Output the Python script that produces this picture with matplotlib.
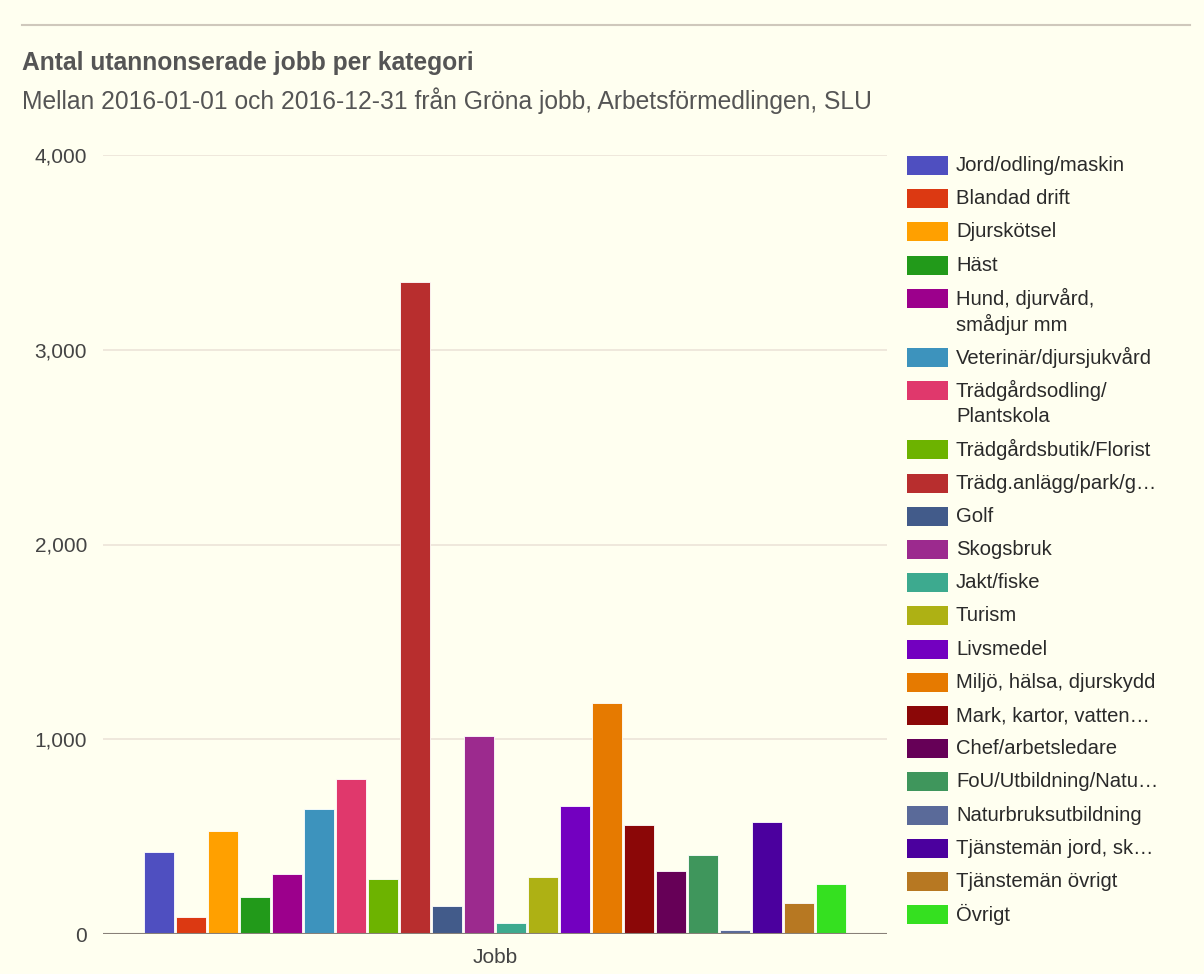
import matplotlib
matplotlib.use("Agg")
import matplotlib.pyplot as plt
from matplotlib.patches import Rectangle

plt.rcParams['font.family'] = ['Liberation Sans', 'DejaVu Sans']

# Kategorier och värden
kategorier = ['Jord/odling/maskin', 'Blandad drift', 'Djurskötsel', 'Häst',
              'Hund, djurvård,\nsmådjur mm', 'Veterinär/djursjukvård',
              'Trädgårdsodling/\nPlantskola', 'Trädgårdsbutik/Florist',
              'Trädg.anlägg/park/g…', 'Golf', 'Skogsbruk', 'Jakt/fiske', 'Turism',
              'Livsmedel', 'Miljö, hälsa, djurskydd', 'Mark, kartor, vatten…',
              'Chef/arbetsledare', 'FoU/Utbildning/Natu…', 'Naturbruksutbildning',
              'Tjänstemän jord, sk…', 'Tjänstemän övrigt', 'Övrigt']
antal = [420, 87, 529, 190, 310, 642, 797, 280, 3350, 145, 1018, 57, 293,
         657, 1185, 560, 323, 405, 20, 576, 160, 257]
farger = ['#4f4fc0', '#dc3912', '#ffa000', '#229a1a', '#9c008c', '#3d93bd',
          '#e0386c', '#6db300', '#b82e2e', '#425b8a', '#9c2a8e', '#3daa8f',
          '#aeb114', '#7300c0', '#e67a00', '#8b0707', '#660057', '#3f965c',
          '#5a6a99', '#4b009e', '#b77822', '#35e020']
yticks = [0, 1000, 2000, 3000, 4000]

W, H = 1204, 974
bg = '#fffff0'
fig = plt.figure(figsize=(W / 100, H / 100), dpi=100, facecolor=bg)

# Linje överst
fig.add_artist(plt.Line2D([22 / W, 1190 / W], [1 - 25 / H, 1 - 25 / H],
                          color='#cfc8bc', linewidth=1.5))
fig.text(22 / W, 1 - 63 / H, 'Antal utannonserade jobb per kategori',
         fontsize=17.7, fontweight='bold', color='#555555', va='center')
fig.text(22 / W, 1 - 101 / H,
         'Mellan 2016-01-01 och 2016-12-31 från Gröna jobb, Arbetsförmedlingen, SLU',
         fontsize=17.7, color='#555555', va='center')

# Diagram
ax = fig.add_axes([103 / W, 1 - 934 / H, (887 - 103) / W, (934 - 155) / H])
ax.set_facecolor(bg)
x = list(range(len(antal)))
ax.bar(x, antal, width=0.94, color=farger, edgecolor='white', linewidth=0.6, zorder=3)
ax.set_xlim(-1.75, len(antal) - 1 + 1.75)
ax.set_ylim(0, 4000)
ax.set_yticks(yticks)
ax.set_yticklabels([f'{v:,}' for v in yticks])
ax.grid(axis='y', color='#ece4d8', linewidth=1.2, zorder=0)
ax.axhline(0, color='#888078', linewidth=1.5, zorder=4)
for s in ax.spines.values():
    s.set_visible(False)
ax.tick_params(axis='y', length=0, pad=11.5, labelsize=15, labelcolor='#444444')
ax.set_xticks([(len(antal) - 1) / 2])
ax.set_xticklabels(['Jobb'])
ax.tick_params(axis='x', length=0, pad=10, labelsize=15, labelcolor='#444444')

# Legend
lax = fig.add_axes([0, 0, 1, 1], facecolor='none')
lax.set_xlim(0, W)
lax.set_ylim(H, 0)
lax.axis('off')
y = 165.5
for namn, f in zip(kategorier, farger):
    lax.add_patch(Rectangle((907, y - 9.5), 41, 19, facecolor=f, edgecolor='none'))
    rader = namn.split('\n')
    for i, rad in enumerate(rader):
        lax.text(956, y + i * 26, rad, fontsize=14.6, color='#2a2a2a',
                 va='center', ha='left')
    y += 33.2 + (len(rader) - 1) * 26

fig.savefig('out.png', dpi=100, facecolor=bg)
